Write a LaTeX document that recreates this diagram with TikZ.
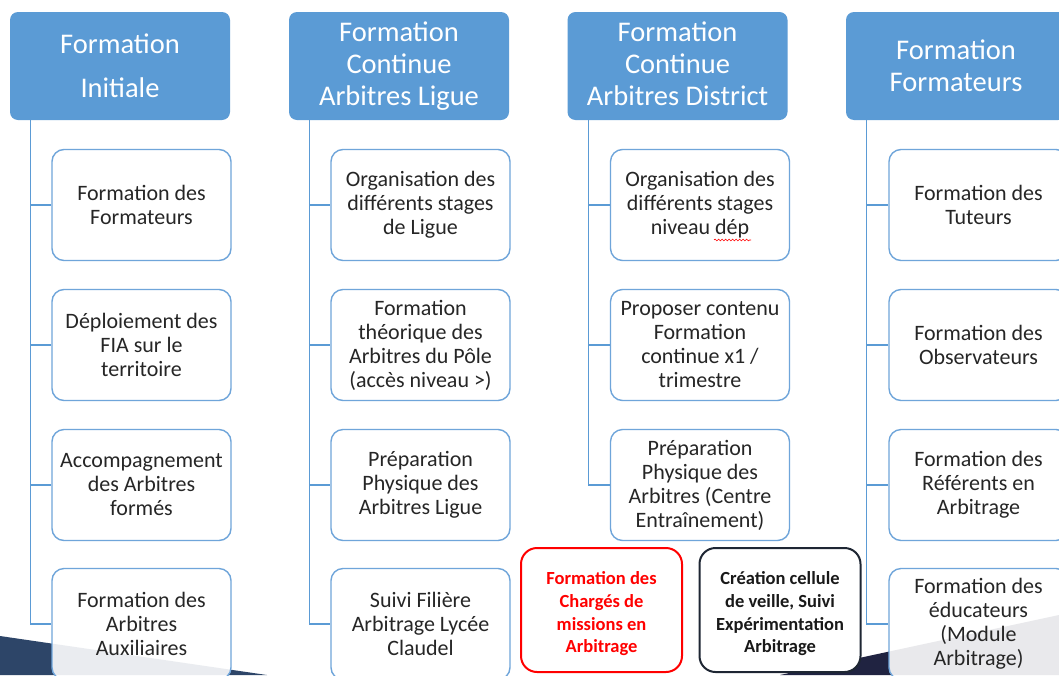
\documentclass[tikz,border=0pt]{standalone}
\usepackage{fontspec}
\setmainfont{Carlito}
\usetikzlibrary{decorations.pathmorphing}
\definecolor{hblue}{HTML}{5B9BD5}
\definecolor{cblue}{HTML}{6FA5DA}
\definecolor{lblue}{HTML}{5B9BD5}
\definecolor{tgray}{HTML}{262626}
\definecolor{navyL}{HTML}{2D4568}
\definecolor{navyR}{HTML}{202341}
\definecolor{boxblack}{HTML}{1E2633}
\tikzset{
  head/.style={fill=hblue, rounded corners=8pt, minimum width=220pt, minimum height=108pt,
    inner sep=0pt, text=white, align=center, font=\fontsize{28.5}{31.8}\selectfont},
  child/.style={draw=cblue, line width=1.4pt, fill=white, fill opacity=0.9, text opacity=1,
    rounded corners=12pt, minimum width=179pt, minimum height=111pt, inner sep=0pt,
    align=center, text=tgray, font=\fontsize{22}{24}\selectfont},
  special/.style={line width=2pt, fill=white, rounded corners=16pt, minimum width=161pt,
    minimum height=124pt, inner sep=0pt, align=center, font=\bfseries\fontsize{18.5}{22.7}\selectfont},
  link/.style={draw=lblue, line width=1.1pt},
}
\begin{document}
\begin{tikzpicture}[x=1pt,y=-1pt]
\useasboundingbox (0,0) rectangle (1059,675);
\clip (0,0) rectangle (1059,675);
\fill[white] (0,0) rectangle (1059,675);
% background bands
\fill[navyL] (0,636) -- (267,675) -- (0,675) -- cycle;
\fill[navyR] (780,675) -- (1059,615) -- (1059,675) -- cycle;
% headers
\node[head] (h1) at (120,66) {Formation\\[12pt]Initiale};
\node[head] (h2) at (399,66) {Formation\\Continue\\Arbitres Ligue};
\node[head] (h3) at (677.5,66) {Formation\\Continue\\Arbitres District\vphantom{g}};
\node[head] (h4) at (956,66) {Formation\\Formateurs};
% column 1
\node[child] (c11) at (141.5,205) {Formation des\\Formateurs};
\node[child] (c12) at (141.5,345) {Déploiement des\\FIA sur le\\territoire};
\node[child] (c13) at (141.5,485) {Accompagnement\\des Arbitres\\formés};
\node[child] (c14) at (141.5,624) {Formation des\\Arbitres\\Auxiliaires};
% column 2
\node[child] (c21) at (420.5,205) {Organisation des\\différents stages\\de Ligue};
\node[child] (c22) at (420.5,345) {Formation\\théorique des\\Arbitres du Pôle\\(accès niveau >)};
\node[child] (c23) at (420.5,485) {Préparation\\Physique des\\Arbitres Ligue};
\node[child] (c24) at (420.5,624) {Suivi Filière\\Arbitrage Lycée\\Claudel};
% column 3
\node[child] (c31) at (700,205) {Organisation des\\différents stages\\niveau dép};
\node[child] (c32) at (700,345) {Proposer contenu\\Formation\\continue x1 /\\trimestre};
\node[child] (c33) at (700,485) {Préparation\\Physique des\\Arbitres (Centre\\Entraînement)};
% column 4
\node[child] (c41) at (978.5,205) {Formation des\\Tuteurs};
\node[child] (c42) at (978.5,345) {Formation des\\Observateurs};
\node[child] (c43) at (978.5,485) {Formation des\\Référents en\\Arbitrage};
\node[child] (c44) at (978.5,624) {Formation des\\éducateurs\\(Module\\Arbitrage)};
% special boxes
\node[special, draw=red, text=red] (r1) at (601.5,610) {\rule{0pt}{21pt}Formation des\\Chargés de\\missions en\\Arbitrage};
\node[special, draw=boxblack, text=black!90] (b1) at (780,610) {\rule{0pt}{21pt}Création cellule\\de veille, Suivi\\Expérimentation\\Arbitrage};
% connectors
\foreach \h/\c in {h1/c11,h1/c12,h1/c13,h1/c14,h2/c21,h2/c22,h2/c23,h2/c24,h3/c31,h3/c32,h3/c33,h4/c41,h4/c42,h4/c43,h4/c44}{
  \draw[link] ([xshift=21pt]\h.south west) |- (\c.west);
}
% spell-check underline
\draw[red, line width=0.6pt, decorate, decoration={snake, amplitude=0.9pt, segment length=3.5pt}]
  ([xshift=14pt,yshift=-35pt]c31.center) -- ++(37,0);
\end{tikzpicture}
\end{document}
